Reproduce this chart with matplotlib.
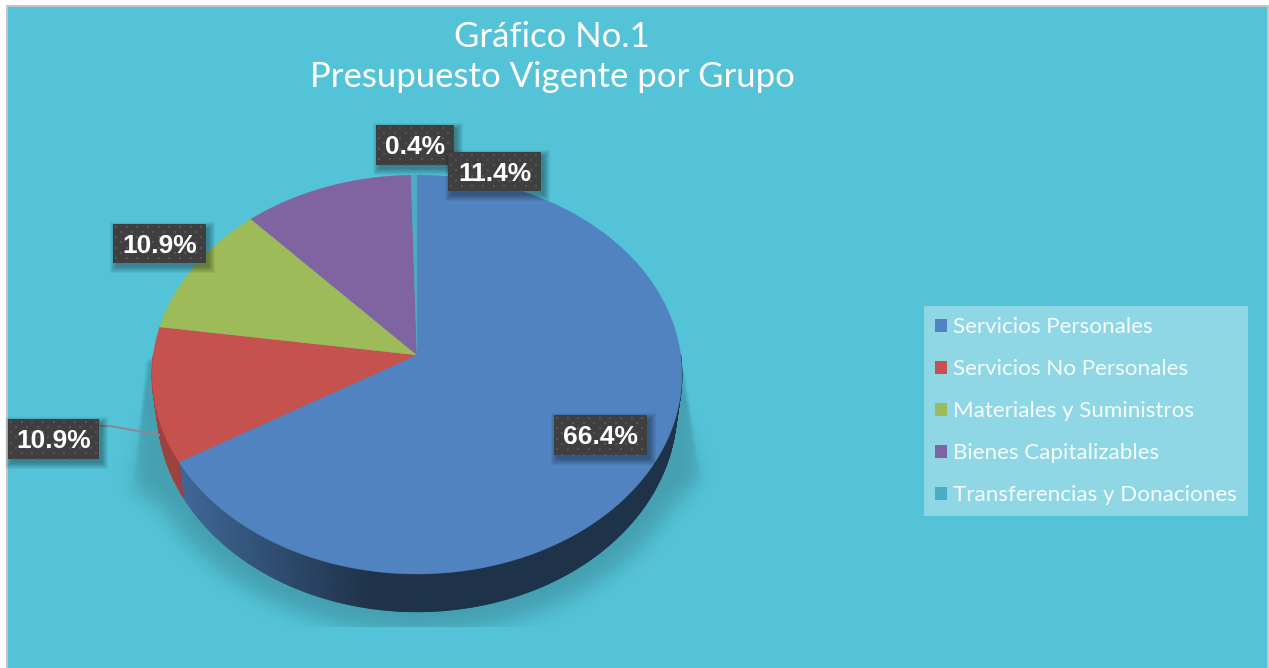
import numpy as np
import matplotlib
matplotlib.use("Agg")
import matplotlib.pyplot as plt
from matplotlib.patches import Rectangle, Patch
from matplotlib.path import Path
from matplotlib.font_manager import FontProperties

# ---- data ----
categories = ["Servicios Personales", "Servicios No Personales", "Materiales y Suministros",
              "Bienes Capitalizables", "Transferencias y Donaciones"]
values = [66.4, 10.9, 10.9, 11.4, 0.4]
labels = ["66.4%", "10.9%", "10.9%", "11.4%", "0.4%"]
title_lines = ["Gráfico No.1", "Presupuesto Vigente por Grupo"]

# ---- style / layout ----
colors = ["#5083bf", "#c5524f", "#9dbb58", "#8064a2", "#4bacc6"]
BG = "#54c3d8"
W, H = 1269, 668
CX, CY = 417, 355
RX, RY, K = 263.7, 197.6, 0.0978
BCY, BRX, BRY = 389, 258.5, 201
# label boxes: x0, x1, y0, y1
boxes = [(554, 647, 415, 455), (8, 99, 419, 459), (113, 206, 224, 263),
         (448, 541, 152, 191), (376, 454, 125, 165)]
LABEL_ORDER = [1, 2, 4, 3, 0]

fig = plt.figure(figsize=(W / 100, H / 100), dpi=100, facecolor="white")
ax = fig.add_axes([0, 0, 1, 1])
ax.axis("off")


def project(theta, rx=RX, ry=RY, cy=CY):
    """theta: clockwise angle from 12 o'clock in radians"""
    u, v = np.sin(theta), np.cos(theta)
    d = 1 + K * v
    return CX + rx * u / d, cy - ry * v / d


# background and frame
ax.add_patch(Rectangle((6, 5), W - 6, H - 5, fc="#c4c4c4", ec="none", zorder=0))
ax.add_patch(Rectangle((8, 7), W - 10, H - 7, fc=BG, ec="none", zorder=0.1))


# soft shadow below the pie
def blur(a, s):
    r = int(3 * s)
    k = np.exp(-0.5 * (np.arange(-r, r + 1) / s) ** 2)
    k /= k.sum()
    a = np.apply_along_axis(lambda m: np.convolve(m, k, mode="same"), 0, a)
    return np.apply_along_axis(lambda m: np.convolve(m, k, mode="same"), 1, a)


t = np.linspace(np.arcsin((505 - 411) / 222), np.pi - np.arcsin((505 - 411) / 222), 120)
poly = [(683, 372), (700, 480)] + list(zip(417 + 283 * np.cos(t), 411 + 222 * np.sin(t))) + [(133, 490), (148, 360)]
sx, sy = np.meshgrid(np.arange(W) + 0.5, np.arange(H) + 0.5)
mask = Path(poly).contains_points(np.c_[sx.ravel(), sy.ravel()]).reshape(H, W).astype(float)
soft, sharp = blur(mask, 10), blur(mask, 1.5)
mix = np.clip((sy - 400) / 90, 0, 1)
alpha = 0.18 * (mix * soft + (1 - mix) * sharp)
alpha[sy > 627] = 0
rgba = np.zeros((H, W, 4))
rgba[..., 3] = alpha
ax.imshow(rgba, extent=(0, W, H, 0), zorder=0.5, interpolation="nearest", aspect="auto")


def shade(c, f):
    return tuple(np.array(matplotlib.colors.to_rgb(c)) * f)


edges = np.cumsum([0] + values) / sum(values) * 2 * np.pi

# side wall, shaded from the values' angles (front-facing part only)
for val_i in range(len(values)):
    th = np.linspace(edges[val_i], edges[val_i + 1], max(3, int(values[val_i] * 6)))
    xt, yt = project(th)
    xb, yb = project(th, BRX, BRY, BCY)
    for j in range(len(th) - 1):
        if np.cos(th[j]) > 0.0 and np.cos(th[j + 1]) > 0.0:
            continue
        xm = (xt[j] + xt[j + 1]) / 2
        f = 0.80 - 0.42 * np.clip((xm - 175) / 195, 0, 1)
        ax.fill([xt[j], xt[j + 1], xb[j + 1], xb[j]], [yt[j], yt[j + 1], yb[j + 1], yb[j]],
                color=shade(colors[val_i], f), lw=0.6, zorder=1)

# top face
for i in range(len(values)):
    th = np.linspace(edges[i], edges[i + 1], max(4, int(values[i] * 8)))
    x, y = project(th)
    ax.fill(np.r_[CX, x], np.r_[CY, y], color=colors[i], lw=0.2, zorder=2)

# leader line
ax.plot([99, 110, 160], [426, 426, 435], color="#8b8790", lw=1.4, zorder=3, solid_capstyle="butt")

# data labels
for z, i in enumerate(LABEL_ORDER):
    x0, x1, y0, y1 = boxes[i]
    zb = 4 + z * 0.1
    for grow in np.arange(6, -1, -1.0):
        ax.add_patch(Rectangle((x0 + 3 - grow, y0 + 4 - grow), x1 - x0 + 2 * grow, y1 - y0 + 2 * grow,
                               fc="black", alpha=0.05, ec="none", zorder=zb))
    ax.add_patch(Rectangle((x0, y0), x1 - x0, y1 - y0, fc="#3f3f3f", ec="none", zorder=zb + 0.01))
    gx, gy = np.meshgrid(np.arange(x0 + 3, x1, 5.33), np.arange(y0 + 2.5, y1, 5.33))
    ax.scatter(gx[::2, ::2].ravel(), gy[::2, ::2].ravel(), s=1.6, marker="s", c="#565656", lw=0, zorder=zb + 0.02)
    ax.scatter(gx[1::2, 1::2].ravel(), gy[1::2, 1::2].ravel(), s=1.6, marker="s", c="#565656", lw=0, zorder=zb + 0.02)
    ax.text((x0 + x1) / 2, (y0 + y1) / 2 + 2.5, labels[i], color="white", ha="center", va="center",
            fontsize=19, fontweight="bold", family="Liberation Sans", zorder=zb + 0.03)

ax.set_xlim(0, W)
ax.set_ylim(H, 0)

# title
fig.text(552 / W, 1 - 37 / H, title_lines[0], color="white", ha="center", va="center", fontsize=25, family="Lato")
fig.text(552 / W, 1 - 77 / H, title_lines[1], color="white", ha="center", va="center", fontsize=25, family="Lato")

# legend
handles = [Patch(fc=c, ec="none") for c in colors]
leg = fig.legend(handles, categories, loc="upper left", bbox_to_anchor=(924 / W, 1 - 306 / H),
                 bbox_transform=fig.transFigure, frameon=True, facecolor="white", framealpha=0.35,
                 edgecolor="none", fancybox=False, borderaxespad=0, borderpad=0.5,
                 labelspacing=0.985, handlelength=0.54, handleheight=0.54, handletextpad=0.25,
                 prop=FontProperties(family="Lato", size=16.1))
for txt in leg.get_texts():
    txt.set_color("#f6fcfd")
leg.set_zorder(10)

fig.savefig("out.png", dpi=100, facecolor="white")
